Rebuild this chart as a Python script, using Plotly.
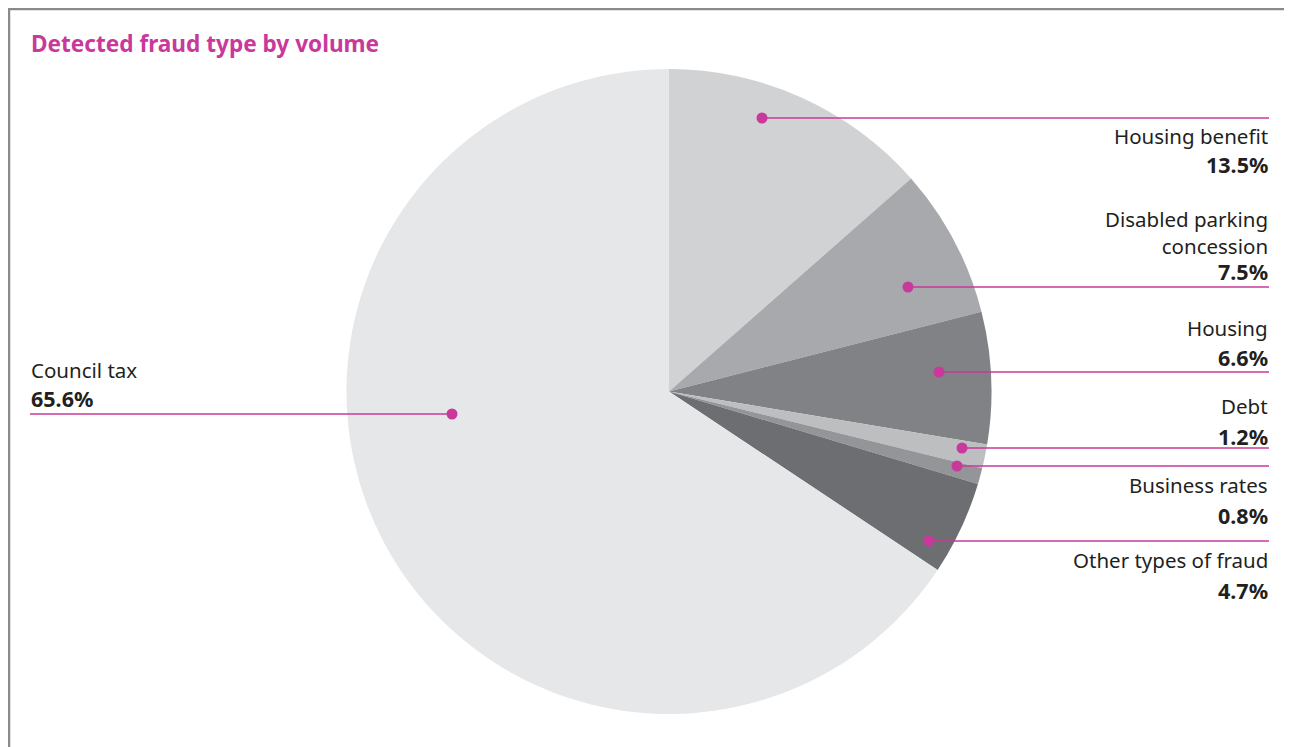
import plotly.graph_objects as go

# ---- data ----
categories = ["Housing benefit", "Disabled parking<br>concession", "Housing", "Debt",
              "Business rates", "Other types of fraud", "Council tax"]
values = [13.5, 7.5, 6.6, 1.2, 0.8, 4.7, 65.6]
colors = ["#d1d2d4", "#a7a9ac", "#808285", "#bcbec0", "#939598", "#6d6e71", "#e6e7e8"]

OFF = 8  # page body margin of the rendered html
W, H = 1292, 747
MAG = "#c8399b"
TXT = "#231f20"
FONT = "Noto Sans"

def px(x):
    return (x - OFF) / W

def py(y):
    return 1 - (y - OFF) / H

# pie geometry (pixels in screenshot)
cx, cy, r = 669, 391.5, 322.5

fig = go.Figure(go.Pie(
    labels=[c.replace("<br>", " ") for c in categories],
    values=values,
    sort=False,
    direction="clockwise",
    rotation=0,
    marker=dict(colors=colors, line=dict(width=0)),
    textinfo="none",
    hoverinfo="label+percent",
    showlegend=False,
    domain=dict(x=[px(cx - r), px(cx + r)], y=[py(cy + r), py(cy - r)]),
))

# label layout (pixels): dot x, line y, name centre, pct centre
layout_pos = [
    dict(dot=762, ly=118, name=136, pct=165),
    dict(dot=908, ly=287, name=232.5, pct=272),
    dict(dot=939, ly=372, name=328, pct=357),
    dict(dot=962, ly=448, name=406, pct=436),
    dict(dot=957, ly=466, name=485, pct=515),
    dict(dot=929, ly=541, name=560, pct=590),
    dict(dot=452, ly=414, name=370, pct=399),
]

shapes = []
annotations = []
RIGHT_X = 1269
LEFT_X = 30
for i, (cat, val) in enumerate(zip(categories, values)):
    p = layout_pos[i]
    left_side = (i == len(categories) - 1)
    x0, x1 = (LEFT_X, p["dot"]) if left_side else (p["dot"], RIGHT_X)
    shapes.append(dict(type="line", xref="paper", yref="paper",
                       x0=px(x0), x1=px(x1), y0=py(p["ly"]), y1=py(p["ly"]),
                       line=dict(color=MAG, width=1.5)))
    rad = 5.5
    shapes.append(dict(type="circle", xref="paper", yref="paper",
                       x0=px(p["dot"] - rad), x1=px(p["dot"] + rad),
                       y0=py(p["ly"] + rad), y1=py(p["ly"] - rad),
                       fillcolor=MAG, line=dict(width=0)))
    tx = LEFT_X if left_side else RIGHT_X
    anchor = "left" if left_side else "right"
    annotations.append(dict(x=px(tx), y=py(p["name"]), xref="paper", yref="paper",
                            text=cat, showarrow=False, xanchor=anchor, yanchor="middle",
                            align=anchor, borderpad=0,
                            font=dict(family=FONT, size=20.5, color=TXT)))
    annotations.append(dict(x=px(tx), y=py(p["pct"]), xref="paper", yref="paper",
                            text=f"<b>{val}%</b>", showarrow=False, xanchor=anchor,
                            yanchor="middle", borderpad=0,
                            font=dict(family=FONT, size=21.5, color=TXT)))

# title
annotations.append(dict(x=px(30), y=py(43), xref="paper", yref="paper",
                        text="<b>Detected fraud type by volume</b>", showarrow=False,
                        xanchor="left", yanchor="middle", borderpad=0,
                        font=dict(family=FONT, size=22.6, color=MAG)))

# frame
shapes.append(dict(type="rect", xref="paper", yref="paper",
                   x0=px(9), x1=px(1294), y0=py(780), y1=py(9),
                   line=dict(color="#8a8a8a", width=2.5), fillcolor="rgba(0,0,0,0)"))

fig.update_layout(
    width=W, height=H,
    margin=dict(l=0, r=0, t=0, b=0),
    paper_bgcolor="white", plot_bgcolor="white",
    shapes=shapes, annotations=annotations,
)

fig.write_html("out.html")
